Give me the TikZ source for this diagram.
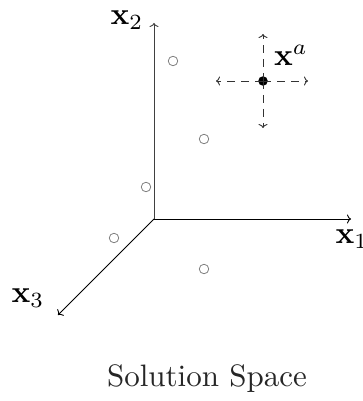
\documentclass[tikz,border=0pt]{standalone}
\usetikzlibrary{arrows.meta}
\newcommand{\bigtxt}[1]{\scalebox{3.1}{#1}}
\begin{document}
\begin{tikzpicture}[x=1pt,y=-1pt,
  axis/.style={line width=0.9pt,-{To[length=4pt,width=9pt]}},
  dasharrow/.style={line width=0.9pt,draw=black!80,dash pattern=on 8pt off 6pt,-{To[length=4pt,width=9pt]}},
  sample/.style={circle,draw=gray,line width=0.8pt,inner sep=0pt,minimum size=9.5pt},
  lab/.style={inner sep=0pt}]
\useasboundingbox (0,0) rectangle (362,401);
% axes
\coordinate (O) at (154,219);
\coordinate (E1) at (351,219);
\coordinate (E2) at (154,23);
\coordinate (E3) at (58,315);
\draw[axis] (O) -- (E1);
\draw[axis,draw=black!75] (O) -- (E2);
\draw[axis] (O) -- (E3);
\node[lab] (l1) at (352,239) {\bigtxt{$\mathbf{x}_1$}};
\node[lab] (l2) at (127,20) {\bigtxt{$\mathbf{x}_2$}};
\node[lab] (l3) at (28,298) {\bigtxt{$\mathbf{x}_3$}};
% samples
\node[sample] (s1) at (173,61) {};
\node[sample] (s2) at (204,139) {};
\node[sample] (s3) at (146,187) {};
\node[sample] (s4) at (114,238) {};
\node[sample] (s5) at (204,269) {};
% x^a point
\node[circle,fill=black,inner sep=0pt,minimum size=9.5pt] (a) at (263,81) {};
\coordinate (aL) at (216,81);
\coordinate (aR) at (308,81);
\coordinate (aU) at (263,34);
\coordinate (aD) at (263,128);
\draw[dasharrow] (a.center) -- (aL);
\draw[dasharrow] (a.center) -- (aR);
\draw[dasharrow] (a.center) -- (aU);
\draw[dasharrow] (a.center) -- (aD);
\node[lab] (la) at (291,55) {\bigtxt{$\mathbf{x}^a$}};
% caption
\node[lab,text=black!85] (cap) at (207,379) {\bigtxt{Solution Space}};
\end{tikzpicture}
\end{document}
